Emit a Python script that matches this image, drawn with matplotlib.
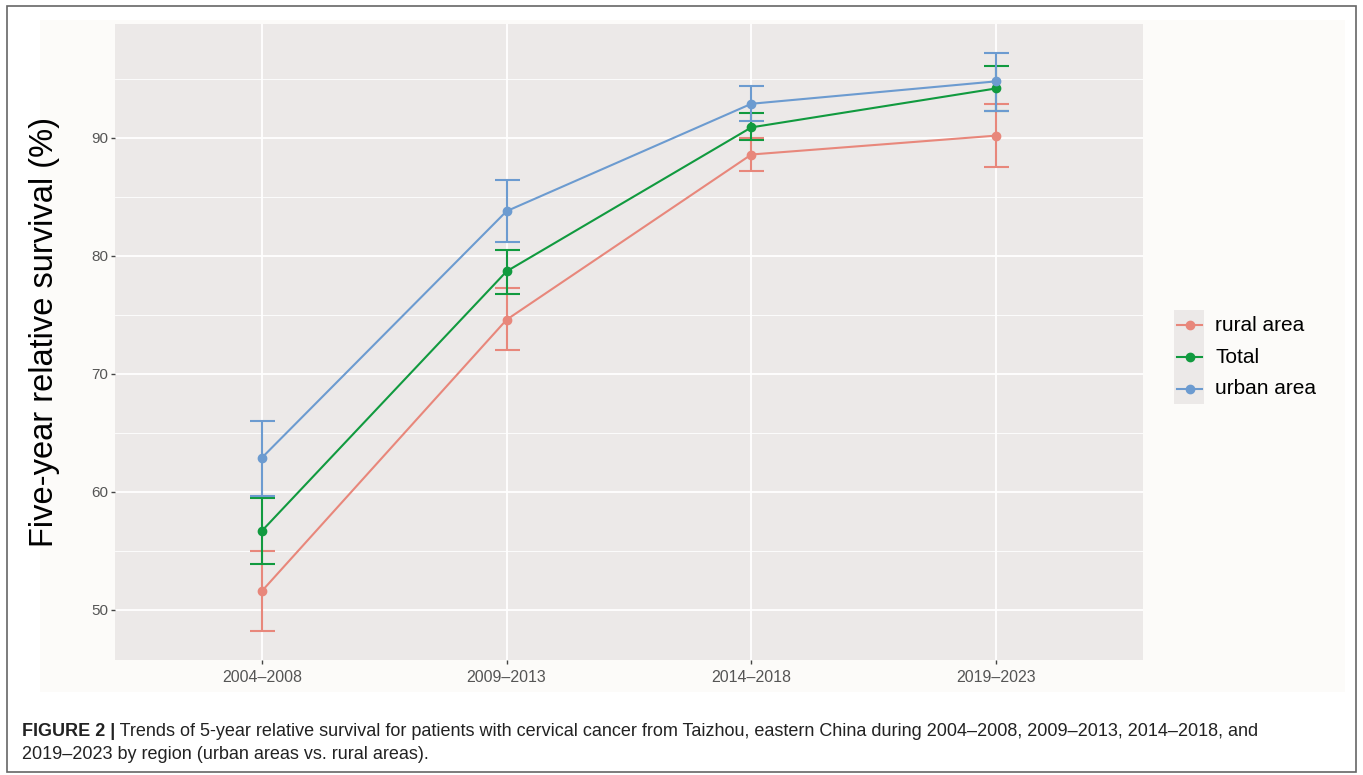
import matplotlib
matplotlib.use('Agg')
import matplotlib.pyplot as plt
from matplotlib.lines import Line2D
from matplotlib.patches import Rectangle
from matplotlib import font_manager

# ---------------- data ----------------
periods = ['2004–2008', '2009–2013', '2014–2018', '2019–2023']
groups = ['rural area', 'Total', 'urban area']

rural = [51.6, 74.6, 88.6, 90.2]
rural_lo = [48.2, 72.0, 87.2, 87.5]
rural_hi = [55.0, 77.3, 90.0, 92.9]

total = [56.7, 78.7, 90.9, 94.2]
total_lo = [53.9, 76.8, 89.8, 92.3]
total_hi = [59.5, 80.5, 92.1, 96.1]

urban = [62.9, 83.8, 92.9, 94.8]
urban_lo = [59.7, 81.2, 91.4, 92.3]
urban_hi = [66.0, 86.4, 94.4, 97.2]

y_ticks = [50, 60, 70, 80, 90]
y_minor = [55, 65, 75, 85, 95]

colors = ['#E8877B', '#119A3F', '#6C9BD0']

caption_bold = 'FIGURE 2 |'
caption_1 = (' Trends of 5-year relative survival for patients with cervical cancer from Taizhou, '
             'eastern China during 2004–2008, 2009–2013, 2014–2018, and')
caption_2 = '2019–2023 by region (urban areas vs. rural areas).'

# ---------------- fonts ----------------
avail = {f.name for f in font_manager.fontManager.ttflist}
base_font = ['Liberation Sans', 'DejaVu Sans']
cap_font = ['Liberation Sans Narrow', 'Liberation Sans', 'DejaVu Sans'] if 'Liberation Sans Narrow' in avail else base_font
plt.rcParams['font.family'] = base_font

W, H = 1363, 775
fig = plt.figure(figsize=(W / 100, H / 100), dpi=100)
fig.patch.set_facecolor('white')

def fx(px):
    return px / W

def fy(py):
    return 1 - py / H

# faint plot background and figure frame
fig.patches.append(Rectangle((fx(40), fy(692)), fx(1345) - fx(40), fy(20) - fy(692),
                             transform=fig.transFigure, facecolor='#fcfbf9', edgecolor='none', zorder=-10))
fig.patches.append(Rectangle((fx(7), fy(772)), fx(1356) - fx(7), fy(6) - fy(772),
                             transform=fig.transFigure, facecolor='none', edgecolor='#666666', lw=1.2, zorder=-9))

ax = fig.add_axes([fx(115), fy(660), fx(1143) - fx(115), fy(24) - fy(660)])
ax.set_zorder(1)
ax.set_facecolor('#ECE9E8')
for s in ax.spines.values():
    s.set_visible(False)

x = list(range(1, len(periods) + 1))
ax.set_xlim(0.4, 4.6)
ax.set_ylim(45.76, 99.66)

ax.set_yticks(y_ticks)
ax.set_yticks(y_minor, minor=True)
ax.set_xticks(x)
ax.set_xticklabels(periods)
ax.grid(which='major', color='white', lw=1.3, zorder=0)
ax.grid(which='minor', axis='y', color='white', lw=0.6, zorder=0)
ax.set_axisbelow(True)
ax.tick_params(which='major', length=3, width=1, color='#444444', labelcolor='#555555', pad=2)
ax.tick_params(axis='y', labelsize=11)
ax.tick_params(axis='x', labelsize=11.5, pad=4)
ax.tick_params(which='minor', length=0)

series = [(rural, rural_lo, rural_hi), (total, total_lo, total_hi), (urban, urban_lo, urban_hi)]
for (vals, lo, hi), c, g in zip(series, colors, groups):
    yerr = [[v - l for v, l in zip(vals, lo)], [h - v for v, h in zip(vals, hi)]]
    ax.errorbar(x, vals, yerr=yerr, fmt='none', ecolor=c, elinewidth=1.5, capsize=12.5 * 0.72,
                capthick=1.5, zorder=3)
    ax.plot(x, vals, color=c, lw=1.5, marker='o', markersize=6, label=g, zorder=4)

# y-axis label
fig.text(fx(45), fy(332), 'Five-year relative survival (%)', rotation=90, fontsize=23.5,
         ha='center', va='center', color='black')

# legend (manual, ggplot style)
fig.patches.append(Rectangle((fx(1174), fy(404)), fx(1204) - fx(1174), fy(310) - fy(404),
                             transform=fig.transFigure, facecolor='#ECE9E8', edgecolor='none'))
rows = [325, 357, 389]
for g, c, ry in zip(groups, colors, rows):
    fig.add_artist(Line2D([fx(1177), fx(1202)], [fy(ry), fy(ry)], transform=fig.transFigure,
                          color=c, lw=1.5, marker=None))
    fig.add_artist(Line2D([fx(1189.5)], [fy(ry)], transform=fig.transFigure, color=c,
                          marker='o', markersize=6, lw=0))
    fig.text(fx(1215), fy(ry), g, fontsize=15, ha='left', va='center', color='black')

# caption
fig.canvas.draw()
r = fig.canvas.get_renderer()
cap_size = 13.0
tb = fig.text(fx(22), fy(736), caption_bold, fontsize=cap_size, fontweight='bold',
              family=cap_font, ha='left', va='baseline', color='#222222')
bb = tb.get_window_extent(renderer=r)
fig.text(bb.x1 / W, fy(736), caption_1, fontsize=cap_size, family=cap_font,
         ha='left', va='baseline', color='#222222')
fig.text(fx(22), fy(759), caption_2, fontsize=cap_size, family=cap_font,
         ha='left', va='baseline', color='#222222')

fig.savefig('out.png', dpi=100, facecolor='white')
